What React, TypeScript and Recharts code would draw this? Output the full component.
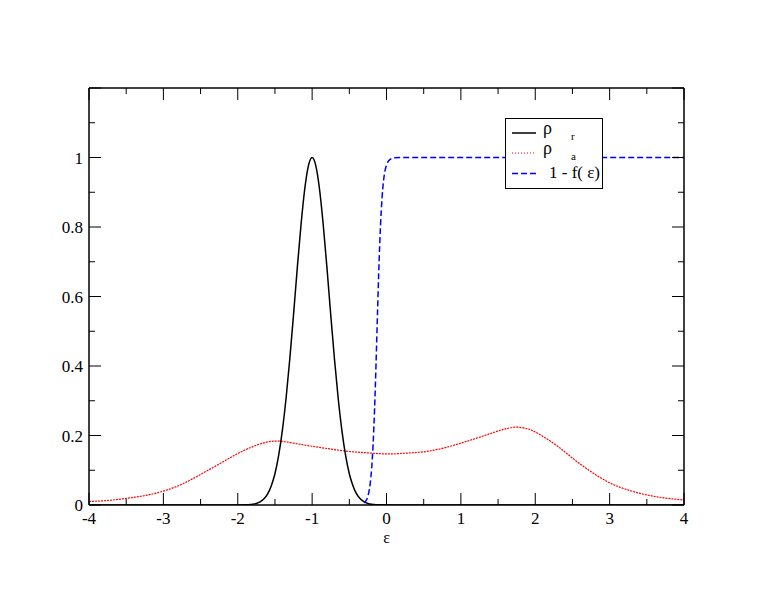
import { LineChart, Line, XAxis, YAxis, Legend } from "recharts";

// rho_r (black, solid)
const rhoREps = [
  -4, -2, -1.9, -1.85, -1.8, -1.75, -1.7, -1.65, -1.6, -1.55, -1.5, -1.45, -1.4, -1.35, -1.3, -1.25,
  -1.2, -1.15, -1.1, -1.05, -1, -0.95, -0.9, -0.85, -0.8, -0.75, -0.7, -0.65, -0.6, -0.55, -0.5,
  -0.45, -0.4, -0.35, -0.3, -0.25, -0.2, -0.15, -0.1, 0, 4,
];
const rhoRVals = [
  0, 0, 0.0004, 0.001, 0.002, 0.0045, 0.009, 0.017, 0.031, 0.055, 0.09, 0.143, 0.215, 0.308, 0.421,
  0.548, 0.681, 0.805, 0.908, 0.976, 1, 0.976, 0.908, 0.805, 0.681, 0.548, 0.421, 0.308, 0.215,
  0.143, 0.09, 0.055, 0.031, 0.017, 0.009, 0.0045, 0.002, 0.001, 0.0004, 0, 0,
];

// rho_a (red, dotted)
const rhoAEps = [
  -4, -3.75, -3.5, -3.25, -3, -2.75, -2.5, -2.25, -2, -1.75, -1.5, -1.25, -1, -0.75, -0.5, -0.25, 0,
  0.25, 0.5, 0.75, 1, 1.25, 1.5, 1.6, 1.75, 1.9, 2, 2.25, 2.5, 2.75, 3, 3.25, 3.5, 3.75, 4,
];
const rhoAVals = [
  0.01, 0.013, 0.019, 0.027, 0.04, 0.06, 0.088, 0.118, 0.148, 0.172, 0.184, 0.178, 0.169, 0.161,
  0.154, 0.15, 0.147, 0.149, 0.153, 0.163, 0.178, 0.195, 0.213, 0.219, 0.224, 0.219, 0.21, 0.177,
  0.135, 0.096, 0.064, 0.043, 0.029, 0.02, 0.0145,
];

// 1 - f(eps) (blue, dashed)
const fermiEps = [
  -0.3, -0.28, -0.26, -0.24, -0.22, -0.2, -0.18, -0.16, -0.14, -0.12, -0.1, -0.08, -0.06, -0.04,
  -0.02, 0, 0.02, 0.04, 0.06, 0.1, 0.2, 4,
];
const fermiVals = [
  0.006, 0.011, 0.019, 0.034, 0.06, 0.104, 0.175, 0.278, 0.411, 0.559, 0.698, 0.807, 0.884, 0.933,
  0.962, 0.978, 0.988, 0.993, 0.996, 0.999, 1, 1,
];

const xTicks = [-4, -3.5, -3, -2.5, -2, -1.5, -1, -0.5, 0, 0.5, 1, 1.5, 2, 2.5, 3, 3.5, 4];
const yTicks = [0, 0.1, 0.2, 0.3, 0.4, 0.5, 0.6, 0.7, 0.8, 0.9, 1, 1.1, 1.2];
const yMajor = [0, 0.2, 0.4, 0.6, 0.8, 1];
const yLabels = ["0", "0.2", "0.4", "0.6", "0.8", "1"];

const zip = (xs: number[], ys: number[]) => xs.map((x, i) => ({ x, y: ys[i] }));
const rhoR = zip(rhoREps, rhoRVals);
const rhoA = zip(rhoAEps, rhoAVals);
const fermi = zip(fermiEps, fermiVals);

const FONT = "Times New Roman, Liberation Serif, DejaVu Serif, serif";
const MAJOR = 12;
const MINOR = 6;

const isXMajor = (v: number) => Number.isInteger(v);
const yIndex = (v: number) => yMajor.findIndex((m) => Math.abs(m - v) < 1e-9);

function BottomTick({ x, y, payload }: any) {
  const major = isXMajor(payload.value);
  return (
    <g>
      <line x1={x} x2={x} y1={y} y2={y - (major ? MAJOR : MINOR)} stroke="#000" />
      {major && (
        <text x={x} y={y + 19} textAnchor="middle" fontFamily={FONT} fontSize={17} fill="#000">
          {String(payload.value)}
        </text>
      )}
    </g>
  );
}

function TopTick({ x, y, payload }: any) {
  const major = isXMajor(payload.value);
  return <line x1={x} x2={x} y1={y} y2={y + (major ? MAJOR : MINOR)} stroke="#000" />;
}

function LeftTick({ x, y, payload }: any) {
  const i = yIndex(payload.value);
  const major = i >= 0 || Math.abs(payload.value - 1.2) < 1e-9;
  return (
    <g>
      <line x1={x} x2={x + (major ? MAJOR : MINOR)} y1={y} y2={y} stroke="#000" />
      {i >= 0 && (
        <text x={x - 6} y={y + 6} textAnchor="end" fontFamily={FONT} fontSize={17} fill="#000">
          {yLabels[i]}
        </text>
      )}
    </g>
  );
}

function RightTick({ x, y, payload }: any) {
  const major = yIndex(payload.value) >= 0 || Math.abs(payload.value - 1.2) < 1e-9;
  return <line x1={x} x2={x - (major ? MAJOR : MINOR)} y1={y} y2={y} stroke="#000" />;
}

function LegendBox() {
  return (
    <svg width={98} height={71} style={{ display: "block" }}>
      <rect x={0.5} y={0.5} width={97} height={70} fill="#fff" stroke="#000" />
      <line x1={7} x2={31} y1={15} y2={15} stroke="#000" strokeWidth={1.5} />
      <line x1={7} x2={31} y1={35} y2={35} stroke="#ff0000" strokeDasharray="1 2" />
      <line x1={7} x2={31} y1={55.5} y2={55.5} stroke="#0000ff" strokeWidth={1.5} strokeDasharray="6 3" />
      <g fontFamily={FONT} fill="#000">
        <text x={38} y={16} fontSize={18}>ρ</text>
        <text x={66} y={22} fontSize={11}>r</text>
        <text x={38} y={36} fontSize={18}>ρ</text>
        <text x={66} y={42} fontSize={11}>a</text>
        <text x={44} y={60} fontSize={17}>1 - f( ε)</text>
      </g>
    </svg>
  );
}

export default function App() {
  return (
    <div style={{ position: "absolute", left: 0, top: 0, background: "#fff" }}>
      <LineChart width={770} height={595} margin={{ top: 87, right: 85, bottom: 30, left: 29 }}>
        <XAxis
          dataKey="x"
          type="number"
          domain={[-4, 4]}
          allowDataOverflow
          ticks={xTicks}
          interval={0}
          height={60}
          tickSize={0}
          tickMargin={0}
          tickLine={false}
          tick={BottomTick}
          axisLine={{ stroke: "#000", strokeWidth: 1.5 }}
          label={(props: any) => {
            const vb = props.viewBox || { x: 89, y: 505, width: 595 };
            return (
              <text
                x={vb.x + vb.width / 2}
                y={vb.y + 38}
                textAnchor="middle"
                fontFamily={FONT}
                fontSize={16}
                fill="#000"
              >
                ε
              </text>
            );
          }}
        />
        <XAxis
          xAxisId="top"
          orientation="top"
          dataKey="x"
          type="number"
          domain={[-4, 4]}
          allowDataOverflow
          ticks={xTicks}
          interval={0}
          height={1}
          tickSize={0}
          tickMargin={0}
          tickLine={false}
          tick={TopTick}
          axisLine={{ stroke: "#000", strokeWidth: 1.5 }}
        />
        <YAxis
          type="number"
          domain={[0, 1.2]}
          allowDataOverflow
          ticks={yTicks}
          interval={0}
          width={60}
          tickSize={0}
          tickMargin={0}
          tickLine={false}
          tick={LeftTick}
          axisLine={{ stroke: "#000", strokeWidth: 1.5 }}
        />
        <YAxis
          yAxisId="right"
          orientation="right"
          type="number"
          domain={[0, 1.2]}
          allowDataOverflow
          ticks={yTicks}
          interval={0}
          width={1}
          tickSize={0}
          tickMargin={0}
          tickLine={false}
          tick={RightTick}
          axisLine={{ stroke: "#000", strokeWidth: 1.5 }}
        />
        <Line
          data={rhoA}
          dataKey="y"
          type="natural"
          stroke="#ff0000"
          strokeWidth={1.2}
          strokeDasharray="2 1"
          dot={false}
          activeDot={false}
          isAnimationActive={false}
        />
        <Line
          data={rhoR}
          dataKey="y"
          type="monotone"
          stroke="#000"
          strokeWidth={1.5}
          dot={false}
          activeDot={false}
          isAnimationActive={false}
        />
        <Line
          data={fermi}
          dataKey="y"
          type="monotone"
          stroke="#0000ff"
          strokeWidth={1.5}
          strokeDasharray="6 3"
          dot={false}
          activeDot={false}
          isAnimationActive={false}
        />
        <Legend
          layout="horizontal"
          verticalAlign="middle"
          align="center"
          wrapperStyle={{ left: 505, top: 118, width: 98, height: 71 }}
          content={() => <LegendBox />}
        />
      </LineChart>
    </div>
  );
}
